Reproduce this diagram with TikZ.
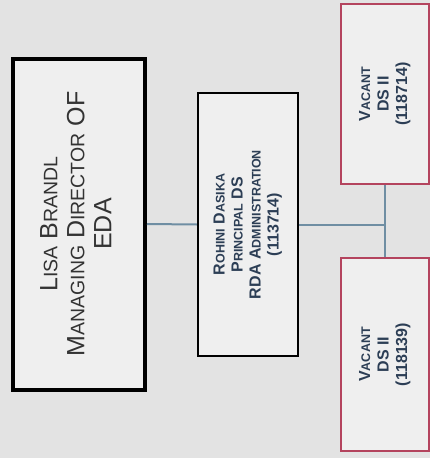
\documentclass[tikz,border=0pt]{standalone}
\usepackage{fontspec}
\setmainfont{Liberation Sans}
\definecolor{bg}{HTML}{E3E3E3}
\definecolor{boxfill}{HTML}{EFEFEF}
\definecolor{vacred}{HTML}{B4445E}
\definecolor{conn}{HTML}{6F8EA3}
\definecolor{txtblue}{HTML}{2C3E55}
\definecolor{txtgray}{HTML}{333333}
\newcommand\lisasc[1]{{\fontsize{19.5}{27}\selectfont #1}}
\newcommand\midsc[1]{{\fontsize{12.5}{18}\selectfont #1}}
\begin{document}
\begin{tikzpicture}[x=1pt,y=-1pt,
  basebox/.style={rectangle, fill=boxfill, inner sep=0pt, align=center},
  lisabox/.style={basebox, draw=black, line width=4pt, minimum width=132pt, minimum height=331pt},
  rohinibox/.style={basebox, draw=black, line width=2.2pt, minimum width=100pt, minimum height=263pt},
  vacbox/.style={basebox, draw=vacred, line width=2.4pt, minimum width=88pt},
  link/.style={draw=conn, line width=2pt}]
\useasboundingbox (0,0) rectangle (430,458);
\fill[bg] (0,0) rectangle (430,458);
\node[lisabox] (lisa) at (79,224) {\rotatebox{90}{\color{txtgray}\fontsize{25}{27}\selectfont
  \begin{tabular}{@{}c@{}}
  L\lisasc{ISA} B\lisasc{RANDL}\\
  M\lisasc{ANAGING} D\lisasc{IRECTOR} OF\\
  EDA
  \end{tabular}}};
\node[rohinibox] (rohini) at (248,224.5) {\rotatebox{90}{\color{txtblue}\fontsize{16}{18}\selectfont\bfseries
  \begin{tabular}{@{}c@{}}
  R\midsc{OHINI} D\midsc{ASIKA}\\
  P\midsc{RINCIPAL} DS\\
  RDA A\midsc{DMINISTRATION}\\
  (113714)
  \end{tabular}}};
\node[vacbox, minimum height=180pt] (vac1) at (385,94) {\rotatebox{90}{\color{txtblue}\fontsize{16}{18.5}\selectfont\bfseries
  \begin{tabular}{@{}c@{}}
  V\midsc{ACANT}\\
  DS II\\
  (118714)
  \end{tabular}}};
\node[vacbox, minimum height=193pt] (vac2) at (385,354.5) {\rotatebox{90}{\color{txtblue}\fontsize{16}{18.5}\selectfont\bfseries
  \begin{tabular}{@{}c@{}}
  V\midsc{ACANT}\\
  DS II\\
  (118139)
  \end{tabular}}};
\coordinate (junc) at (rohini.east -| vac1.south);
\path[link] (lisa.east) -- (rohini.west);
\path[link] (rohini.east) -- (junc);
\path[link] (vac1.south) -- (vac2.north);
\end{tikzpicture}
\end{document}
